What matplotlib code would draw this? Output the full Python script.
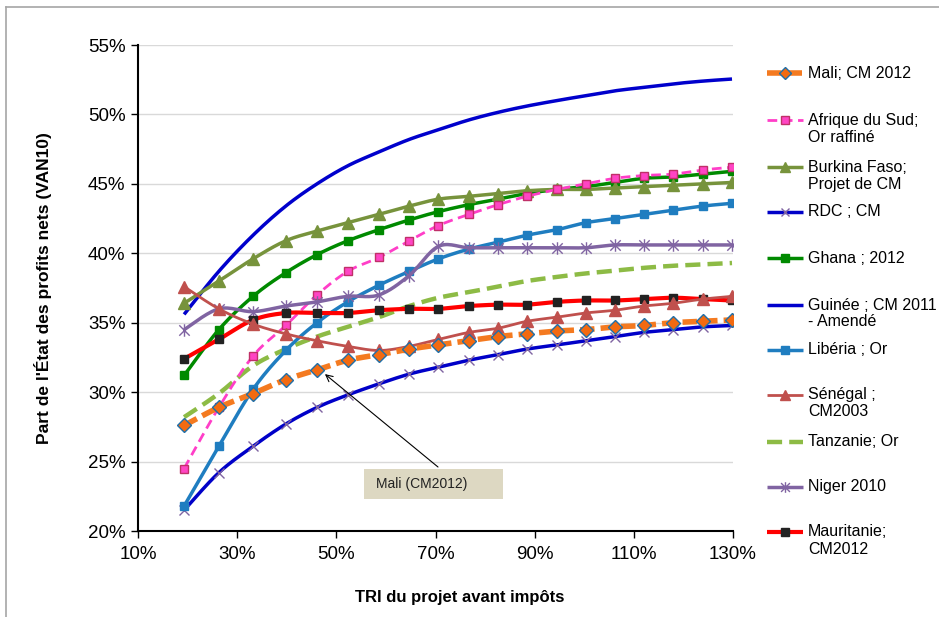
import numpy as np
import matplotlib
matplotlib.use("Agg")
import matplotlib.pyplot as plt
from matplotlib.lines import Line2D
from matplotlib.patches import Rectangle
from matplotlib.path import Path
from matplotlib.ticker import PercentFormatter, FixedLocator

plt.rcParams['font.family'] = ['Liberation Sans', 'DejaVu Sans']

# ---------------- data (percent) ----------------
tri = [19.3, 26.3, 33.2, 39.8, 46.1, 52.3, 58.6, 64.7, 70.6, 76.7,
       82.6, 88.4, 94.5, 100.3, 106.2, 112.0, 117.9, 123.9, 129.8]

mali = [27.6, 28.9, 29.9, 30.9, 31.6, 32.3, 32.7, 33.1, 33.4, 33.7,
        34.0, 34.2, 34.4, 34.5, 34.7, 34.8, 35.0, 35.1, 35.2]
afrique_sud = [24.5, 28.9, 32.6, 34.8, 37.0, 38.7, 39.7, 40.9, 42.0, 42.8,
               43.5, 44.1, 44.6, 45.0, 45.4, 45.6, 45.7, 46.0, 46.2]
burkina = [36.4, 38.0, 39.6, 40.9, 41.6, 42.2, 42.8, 43.4, 43.9, 44.1,
           44.3, 44.5, 44.6, 44.6, 44.7, 44.8, 44.9, 45.0, 45.1]
rdc = [21.5, 24.2, 26.1, 27.7, 28.9, 29.8, 30.6, 31.3, 31.8, 32.3,
       32.7, 33.1, 33.4, 33.7, 34.0, 34.3, 34.5, 34.7, 34.8]
ghana = [31.2, 34.5, 36.9, 38.6, 39.9, 40.9, 41.7, 42.4, 43.0, 43.5,
         43.9, 44.3, 44.6, 44.8, 45.1, 45.4, 45.5, 45.7, 45.9]
guinee = [35.6, 38.7, 41.3, 43.4, 45.0, 46.3, 47.3, 48.2, 48.9, 49.6,
          50.15, 50.6, 51.0, 51.35, 51.7, 51.95, 52.2, 52.4, 52.55]
liberia = [21.8, 26.1, 30.2, 33.0, 35.0, 36.5, 37.7, 38.7, 39.6, 40.3,
           40.8, 41.3, 41.7, 42.2, 42.5, 42.8, 43.1, 43.4, 43.6]
senegal = [37.6, 36.0, 34.9, 34.2, 33.7, 33.3, 33.0, 33.3, 33.8, 34.3,
           34.6, 35.1, 35.4, 35.7, 35.9, 36.2, 36.4, 36.7, 36.9]
tanzanie = [28.2, 29.9, 31.9, 33.1, 34.0, 34.7, 35.4, 36.2, 36.8, 37.2,
            37.6, 38.0, 38.3, 38.55, 38.75, 38.95, 39.1, 39.2, 39.3]
niger = [34.5, 36.0, 35.8, 36.2, 36.5, 36.9, 37.0, 38.4, 40.5, 40.4,
         40.4, 40.4, 40.4, 40.4, 40.6, 40.6, 40.6, 40.6, 40.6]
mauritanie = [32.4, 33.8, 35.2, 35.7, 35.7, 35.7, 35.9, 36.0, 36.0, 36.2,
              36.3, 36.3, 36.5, 36.6, 36.6, 36.7, 36.8, 36.7, 36.6]

labels = [["Mali; CM 2012"],
          ["Afrique du Sud;", "Or raffiné"],
          ["Burkina Faso;", "Projet de CM"],
          ["RDC ; CM"],
          ["Ghana ; 2012"],
          ["Guinée ; CM 2011", "- Amendé"],
          ["Libéria ; Or"],
          ["Sénégal ;", "CM2003"],
          ["Tanzanie; Or"],
          ["Niger 2010"],
          ["Mauritanie;", "CM2012"]]
series = [mali, afrique_sud, burkina, rdc, ghana, guinee, liberia,
          senegal, tanzanie, niger, mauritanie]

x_ticks = [10, 30, 50, 70, 90, 110, 130]
y_ticks = [20, 25, 30, 35, 40, 45, 50, 55]

# asterisk marker (x + vertical bar)
ast = Path([(-1, -1), (1, 1), (-1, 1), (1, -1), (0, -1.2), (0, 1.2)],
           [Path.MOVETO, Path.LINETO, Path.MOVETO, Path.LINETO,
            Path.MOVETO, Path.LINETO])

styles = [
    dict(color='#F47A20', lw=4.0, ls=(0, (2.6, 1.1)), marker='D', ms=7.5,
         mfc='#F36A10', mec='#1F6FA8', mew=1.0),
    dict(color='#FF3EC8', lw=2.0, ls=(0, (3.5, 2.0)), marker='s', ms=6,
         mfc='#FF44C4', mec='#C03068', mew=1.0),
    dict(color='#77933C', lw=2.5, ls='-', marker='^', ms=8,
         mfc='#77933C', mec='#77933C', mew=1.0),
    dict(color='#0000C8', lw=2.5, ls='-', marker='x', ms=7,
         mfc='#8064A2', mec='#8064A2', mew=1.0),
    dict(color='#008A00', lw=2.5, ls='-', marker='s', ms=6,
         mfc='#008A00', mec='#008A00', mew=1.0),
    dict(color='#0000CC', lw=2.5, ls='-', marker=None, ms=0,
         mfc='none', mec='none', mew=0),
    dict(color='#1F7DC0', lw=2.5, ls='-', marker='s', ms=6,
         mfc='#1F7DC0', mec='#1F7DC0', mew=1.0),
    dict(color='#C0504D', lw=2.0, ls='-', marker='^', ms=8,
         mfc='#C0504D', mec='#C0504D', mew=1.0),
    dict(color='#8DBB45', lw=3.2, ls=(0, (3.4, 1.6)), marker=None, ms=0,
         mfc='none', mec='none', mew=0),
    dict(color='#8064A2', lw=2.5, ls='-', marker=ast, ms=9,
         mfc='#8064A2', mec='#8064A2', mew=1.0),
    dict(color='#FF0000', lw=3.0, ls='-', marker='s', ms=6,
         mfc='#222222', mec='#222222', mew=1.0),
]


def smooth(x, y, n=16):
    """Excel-like smoothed (Bezier / Catmull-Rom) curve through the points."""
    x = np.asarray(x, float)
    y = np.asarray(y, float)
    px = np.concatenate([[x[0]], x, [x[-1]]])
    py = np.concatenate([[y[0]], y, [y[-1]]])
    xs, ys = [], []
    t = np.linspace(0, 1, n, endpoint=False)
    for i in range(1, len(px) - 2):
        p0 = np.array([px[i], py[i]])
        p3 = np.array([px[i + 1], py[i + 1]])
        c1 = p0 + (np.array([px[i + 1], py[i + 1]]) - np.array([px[i - 1], py[i - 1]])) / 6
        c2 = p3 - (np.array([px[i + 2], py[i + 2]]) - np.array([px[i], py[i]])) / 6
        b = ((1 - t) ** 3)[:, None] * p0 + (3 * (1 - t) ** 2 * t)[:, None] * c1 + \
            (3 * (1 - t) * t ** 2)[:, None] * c2 + (t ** 3)[:, None] * p3
        xs.extend(b[:, 0])
        ys.extend(b[:, 1])
    xs.append(x[-1])
    ys.append(y[-1])
    return np.array(xs), np.array(ys)


W, H = 939, 617
fig = plt.figure(figsize=(W / 100, H / 100), dpi=100)
ax = fig.add_axes([138 / W, 1 - 531 / H, (733 - 138) / W, (531 - 45) / H])

order = [5, 8, 3, 6, 4, 2, 1, 9, 10, 7, 0]
for z, i in enumerate(order):
    st = styles[i]
    sx, sy = smooth(tri, series[i])
    ax.plot(sx, sy, color=st['color'], lw=st['lw'], ls=st['ls'],
            solid_capstyle='butt', zorder=3 + z * 0.1)
    if st['marker'] is not None:
        ax.plot(tri, series[i], ls='none', marker=st['marker'], ms=st['ms'],
                mfc=st['mfc'], mec=st['mec'], mew=st['mew'],
                zorder=3.05 + z * 0.1)

ax.set_xlim(10, 130)
ax.set_ylim(20, 55)
ax.xaxis.set_major_locator(FixedLocator(x_ticks))
ax.yaxis.set_major_locator(FixedLocator(y_ticks))
ax.xaxis.set_major_formatter(PercentFormatter(decimals=0))
ax.yaxis.set_major_formatter(PercentFormatter(decimals=0))
ax.grid(axis='y', color='#D9D9D9', lw=1.0, zorder=0)
ax.set_axisbelow(True)
for s in ['top', 'right']:
    ax.spines[s].set_visible(False)
for s in ['left', 'bottom']:
    ax.spines[s].set_color('black')
    ax.spines[s].set_linewidth(1.5)
ax.tick_params(axis='both', direction='out', length=5, width=1, labelsize=13.5,
               colors='black', pad=4)
ax.tick_params(axis='x', pad=6)

ax.set_xlabel("TRI du projet avant impôts", fontsize=12, fontweight='bold',
              family=['Liberation Sans Narrow', 'Liberation Sans', 'DejaVu Sans'])
ax.xaxis.set_label_coords((460 - 138) / 595, (531 - 590) / 486)
ax.set_ylabel("Part de l'État des profits nets (VAN10)", fontsize=12.5,
              fontweight='bold',
              family=['Liberation Sans Narrow', 'Liberation Sans', 'DejaVu Sans'])
ax.yaxis.set_label_coords((52 - 138) / 595, 0.5)

# annotation
def fx(px):
    return px / W


def fy(py):
    return 1 - py / H


fig.add_artist(Rectangle((fx(364), fy(499)), (503 - 364) / W, (499 - 469) / H,
                         transform=fig.transFigure, facecolor='#DDD8C2',
                         edgecolor='none', zorder=5))
fig.text(fx(376), fy(484), "Mali (CM2012)", fontsize=10, va='center',
         ha='left', color='#222222', zorder=6,
         family=['Liberation Sans', 'DejaVu Sans'])
ax.annotate('', xy=(47.7, 31.3), xycoords='data',
            xytext=(438, H - 467), textcoords='figure pixels',
            arrowprops=dict(arrowstyle='->', color='black', lw=0.8,
                            shrinkA=0, shrinkB=0, mutation_scale=12),
            zorder=7)

# legend (manual)
leg_y = [73, 120, 167, 212, 258, 305, 350, 395, 442, 487, 532]
for i, yy in enumerate(leg_y):
    st = styles[i]
    fig.add_artist(Line2D([fx(767), fx(803)], [fy(yy), fy(yy)],
                          transform=fig.transFigure, color=st['color'],
                          lw=st['lw'], ls=st['ls'], solid_capstyle='butt'))
    if st['marker'] is not None:
        fig.add_artist(Line2D([fx(785)], [fy(yy)], transform=fig.transFigure,
                              ls='none', marker=st['marker'], ms=st['ms'] * 0.85,
                              mfc=st['mfc'], mec=st['mec'], mew=st['mew']))
    for k, line in enumerate(labels[i]):
        fig.text(fx(808), fy(yy + 17 * k), line, fontsize=11.5, va='center',
                 ha='left', color='black')

# outer frame
fig.add_artist(Line2D([fx(6), fx(6)], [fy(7), 0], transform=fig.transFigure,
                      color='#A6A6A6', lw=1.2))
fig.add_artist(Line2D([fx(6), 1], [fy(7), fy(7)], transform=fig.transFigure,
                      color='#A6A6A6', lw=1.2))

fig.savefig("out.png", dpi=100)
